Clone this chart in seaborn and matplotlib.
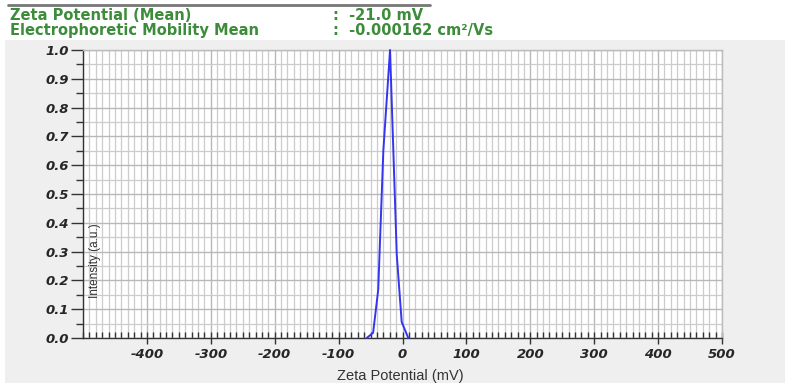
import matplotlib
matplotlib.use("Agg")
import matplotlib.pyplot as plt
import seaborn as sns
import numpy as np
import pandas as pd
from matplotlib.ticker import MultipleLocator, FixedLocator
from matplotlib.patches import Rectangle

# Data
zeta_mv = [-56, -46, -38, -30, -19.5, -9, -1.3, 9]
intensity = [0.0, 0.018, 0.167, 0.65, 1.0, 0.29, 0.056, 0.0]
x_ticks = [-400, -300, -200, -100, 0, 100, 200, 300, 400, 500]
y_ticks = [0.0, 0.1, 0.2, 0.3, 0.4, 0.5, 0.6, 0.7, 0.8, 0.9, 1.0]
header_labels = ["Zeta Potential (Mean)", "Electrophoretic Mobility Mean"]
header_values = [":  -21.0 mV", ":  -0.000162 cm²/Vs"]

sns.set_theme(style="white")
plt.rcParams['font.family'] = ['DejaVu Sans']

W, H = 785, 386
fig = plt.figure(figsize=(W / 100, H / 100), dpi=100)
fig.patch.set_facecolor("white")

# grey panel
fig.add_artist(Rectangle((5 / W, 3 / H), 780 / W, (H - 40 - 3) / H,
                         transform=fig.transFigure, facecolor="#efefef",
                         edgecolor="none", zorder=-10))
# top rule
fig.add_artist(plt.Line2D([8 / W, 430 / W], [1 - 5 / H, 1 - 5 / H],
                          transform=fig.transFigure, color="#777777", lw=2))

green = "#3c8c3c"
for i, (lab, val) in enumerate(zip(header_labels, header_values)):
    yy = 1 - (15 + 15 * i) / H
    fig.text(10 / W, yy, lab, color=green, fontsize=10.5, fontweight="bold",
             va="center", ha="left")
    fig.text(333 / W, yy, val, color=green, fontsize=10.5, fontweight="bold",
             va="center", ha="left")

left, right, top, bottom = 83, 722, 50, 338
ax = fig.add_axes([left / W, 1 - bottom / H, (right - left) / W, (bottom - top) / H])
ax.set_facecolor("white")

df = pd.DataFrame({"zeta": zeta_mv, "intensity": intensity})
sns.lineplot(data=df, x="zeta", y="intensity", ax=ax, color="#3535f0",
             lw=1.4, zorder=5, clip_on=False)

ax.set_xlim(-500, 500)
ax.set_ylim(0, 1.0)
ax.xaxis.set_major_locator(FixedLocator(x_ticks))
ax.xaxis.set_minor_locator(MultipleLocator(10))
ax.yaxis.set_major_locator(FixedLocator(y_ticks))
ax.yaxis.set_minor_locator(MultipleLocator(0.05))

ax.grid(True, which="minor", color="#cccccc", lw=0.9)
ax.grid(True, which="major", color="#b8b8b8", lw=1.0)
ax.set_axisbelow(True)

tick_font = dict(fontsize=9.5, fontweight="bold", fontstyle="oblique")
ax.set_xticklabels([str(t) for t in x_ticks], **tick_font)
ax.set_yticklabels([f"{t:.1f}" for t in y_ticks], **tick_font)

ax.tick_params(axis="y", which="major", direction="out", length=9, width=1,
               color="#333333", pad=1, left=True)
ax.tick_params(axis="y", which="minor", direction="out", length=5, width=1,
               color="#333333", left=True)
ax.tick_params(axis="x", which="major", direction="inout", length=9, width=1,
               color="#333333", pad=3, bottom=True)
ax.tick_params(axis="x", which="minor", direction="in", length=4, width=1,
               color="#333333", bottom=True)

for s in ["left", "bottom"]:
    ax.spines[s].set_color("#333333")
    ax.spines[s].set_linewidth(1)
for s in ["top", "right"]:
    ax.spines[s].set_color("#bbbbbb")
    ax.spines[s].set_linewidth(1)

ax.set_xlabel("")
ax.set_ylabel("")
ax.text(0.019, 0.27, "Intensity (a.u.)", transform=ax.transAxes, rotation=90,
        ha="center", va="center", fontsize=8.5, color="#333333",
        family="Liberation Sans")
fig.text(400 / W, 1 - 376 / H, "Zeta Potential (mV)", ha="center", va="center",
         fontsize=10.5, color="#333333", family="Liberation Sans")

fig.savefig("out.png", dpi=100, facecolor=fig.get_facecolor())
